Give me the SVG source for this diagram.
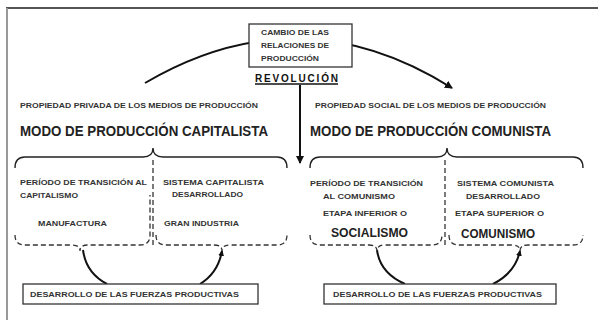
<svg xmlns="http://www.w3.org/2000/svg" width="598" height="320" viewBox="0 0 598 320">
<defs>
<marker id="ah" markerWidth="8" markerHeight="8" refX="7" refY="4" orient="auto" markerUnits="userSpaceOnUse">
<path d="M0,0 L8,4 L0,8 Z" fill="#111"/>
</marker>
<marker id="ahs" markerWidth="6" markerHeight="6" refX="5" refY="3" orient="auto" markerUnits="userSpaceOnUse">
<path d="M0,0 L6,3 L0,6 Z" fill="#111"/>
</marker>
<style>
.sm{font-family:"Liberation Sans",Arial,sans-serif;font-size:7.5px;font-weight:bold;fill:#333}
.big{font-family:"Liberation Sans",Arial,sans-serif;font-size:14px;font-weight:bold;fill:#222}
.mid{font-family:"Liberation Sans",Arial,sans-serif;font-size:12px;font-weight:bold;fill:#222}
.box{fill:#fff;stroke:#333;stroke-width:1.3}
.conn{fill:none;stroke:#111;stroke-width:2}
.brace{fill:none;stroke:#222;stroke-width:1.4}
.dash{fill:none;stroke:#333;stroke-width:1.3;stroke-dasharray:5,3}
</style>
</defs>
<rect x="0" y="0" width="598" height="320" fill="#fff"/>
<!-- frame -->
<line x1="6" y1="8" x2="598" y2="8" stroke="#555" stroke-width="2"/>
<line x1="7" y1="8" x2="7" y2="320" stroke="#999" stroke-width="2"/>

<g id="connectors">
<path class="conn" d="M145,83 Q300,-8 452,88" marker-end="url(#ah)"/>
<line class="conn" x1="300" y1="85" x2="300" y2="163" marker-end="url(#ah)"/>
<path class="conn" d="M83,250 Q86,273 107,284"/>
<path class="conn" d="M200,284 Q218,273 222,251" marker-end="url(#ahs)"/>
<path class="conn" d="M377,250 Q380,273 405,284"/>
<path class="conn" d="M493,284 Q515,273 520,251" marker-end="url(#ahs)"/>
</g>

<g id="cambio">
<rect class="box" x="249" y="24" width="103" height="43"/>
<text class="sm" x="261" y="35" textLength="68" lengthAdjust="spacingAndGlyphs">CAMBIO DE LAS</text>
<text class="sm" x="261" y="48" textLength="68" lengthAdjust="spacingAndGlyphs">RELACIONES DE</text>
<text class="sm" x="261" y="61" textLength="58" lengthAdjust="spacingAndGlyphs">PRODUCCIÓN</text>
</g>

<g id="revolucion">
<text x="255" y="81.5" font-family="'Liberation Sans',Arial,sans-serif" font-size="10" font-weight="bold" fill="#111" textLength="83" lengthAdjust="spacing">REVOLUCIÓN</text>
<line x1="255" y1="84" x2="338" y2="84" stroke="#111" stroke-width="1.5"/>
</g>

<g id="capitalista">
<text class="sm" x="20" y="108" textLength="238" lengthAdjust="spacingAndGlyphs">PROPIEDAD PRIVADA DE LOS MEDIOS DE PRODUCCIÓN</text>
<text class="big" x="20" y="136" textLength="248" lengthAdjust="spacingAndGlyphs">MODO DE PRODUCCIÓN CAPITALISTA</text>
<path class="brace" d="M15,168 Q15,157 25,157 L143,157 Q153,157 153,148 Q153,157 163,157 L277,157 Q287,157 287,168"/>
<line class="dash" x1="153" y1="160" x2="153" y2="245"/>
<path class="dash" d="M15,235 Q15,245 25,245 L72,245 Q80,245 80,251 Q80,245 88,245 L140,245 Q150,245 150,235 L150,195"/>
<path class="dash" d="M156,235 Q156,245 166,245 L214,245 Q222,245 222,251 Q222,245 230,245 L277,245 Q287,245 287,235"/>
</g>

<g id="transicion-capitalismo">
<text class="sm" x="20" y="185" textLength="127" lengthAdjust="spacingAndGlyphs">PERÍODO DE TRANSICIÓN AL</text>
<text class="sm" x="20" y="198" textLength="58" lengthAdjust="spacingAndGlyphs">CAPITALISMO</text>
<text class="sm" x="38" y="226" textLength="69" lengthAdjust="spacingAndGlyphs">MANUFACTURA</text>
</g>

<g id="sistema-capitalista">
<text class="sm" x="163" y="185" textLength="101" lengthAdjust="spacingAndGlyphs">SISTEMA CAPITALISTA</text>
<text class="sm" x="172" y="197" textLength="71" lengthAdjust="spacingAndGlyphs">DESARROLLADO</text>
<text class="sm" x="164" y="226" textLength="75" lengthAdjust="spacingAndGlyphs">GRAN INDUSTRIA</text>
</g>

<g id="comunista">
<text class="sm" x="315" y="108" textLength="231" lengthAdjust="spacingAndGlyphs">PROPIEDAD SOCIAL DE LOS MEDIOS DE PRODUCCIÓN</text>
<text class="big" x="310" y="136" textLength="241" lengthAdjust="spacingAndGlyphs">MODO DE PRODUCCIÓN COMUNISTA</text>
<path class="brace" d="M310,168 Q310,157 320,157 L437,157 Q447,157 447,148 Q447,157 457,157 L573,157 Q583,157 583,168"/>
<line class="dash" x1="445" y1="160" x2="445" y2="245"/>
<path class="dash" d="M310,235 Q310,245 320,245 L369,245 Q377,245 377,251 Q377,245 385,245 L432,245 Q442,245 442,235"/>
<path class="dash" d="M449,235 Q449,245 459,245 L512,245 Q520,245 520,251 Q520,245 528,245 L573,245 Q583,245 583,235"/>
</g>

<g id="socialismo">
<text class="sm" x="310" y="186" textLength="113" lengthAdjust="spacingAndGlyphs">PERÍODO DE TRANSICIÓN</text>
<text class="sm" x="323" y="199" textLength="72" lengthAdjust="spacingAndGlyphs">AL COMUNISMO</text>
<text class="sm" x="323" y="216" textLength="84" lengthAdjust="spacingAndGlyphs">ETAPA INFERIOR O</text>
<text class="mid" x="331" y="237" textLength="77" lengthAdjust="spacingAndGlyphs">SOCIALISMO</text>
</g>

<g id="comunismo">
<text class="sm" x="457" y="186" textLength="97" lengthAdjust="spacingAndGlyphs">SISTEMA COMUNISTA</text>
<text class="sm" x="466" y="199" textLength="74" lengthAdjust="spacingAndGlyphs">DESARROLLADO</text>
<text class="sm" x="455" y="216" textLength="89" lengthAdjust="spacingAndGlyphs">ETAPA SUPERIOR O</text>
<text class="mid" x="461" y="238" textLength="74" lengthAdjust="spacingAndGlyphs">COMUNISMO</text>
</g>

<g id="fuerzas-1">
<rect class="box" x="23" y="284" width="235" height="20"/>
<text class="sm" x="30" y="297" textLength="209" lengthAdjust="spacingAndGlyphs">DESARROLLO DE LAS FUERZAS PRODUCTIVAS</text>
</g>

<g id="fuerzas-2">
<rect class="box" x="324" y="284" width="232" height="20"/>
<text class="sm" x="333" y="297" textLength="209" lengthAdjust="spacingAndGlyphs">DESARROLLO DE LAS FUERZAS PRODUCTIVAS</text>
</g>
</svg>
